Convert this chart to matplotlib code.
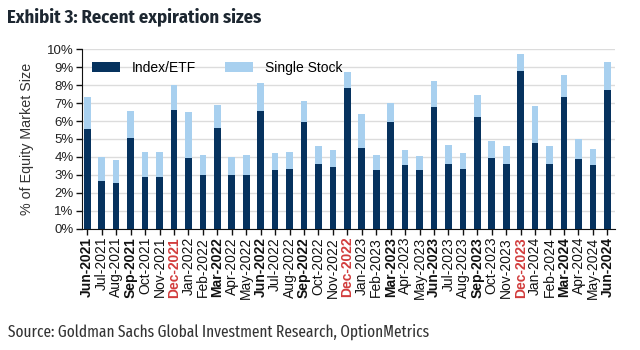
import matplotlib
matplotlib.use("Agg")
import matplotlib.pyplot as plt
import numpy as np

months = ["Jun-2021", "Jul-2021", "Aug-2021", "Sep-2021", "Oct-2021", "Nov-2021", "Dec-2021",
          "Jan-2022", "Feb-2022", "Mar-2022", "Apr-2022", "May-2022", "Jun-2022", "Jul-2022",
          "Aug-2022", "Sep-2022", "Oct-2022", "Nov-2022", "Dec-2022", "Jan-2023", "Feb-2023",
          "Mar-2023", "Apr-2023", "May-2023", "Jun-2023", "Jul-2023", "Aug-2023", "Sep-2023",
          "Oct-2023", "Nov-2023", "Dec-2023", "Jan-2024", "Feb-2024", "Mar-2024", "Apr-2024",
          "May-2024", "Jun-2024"]

index_etf = [5.53, 2.63, 2.55, 5.03, 2.88, 2.88, 6.63, 3.91, 3.00, 5.60, 3.00, 3.00, 6.55,
             3.26, 3.31, 5.92, 3.63, 3.44, 7.82, 4.52, 3.26, 5.92, 3.52, 3.26, 6.76, 3.63,
             3.31, 6.24, 3.95, 3.63, 8.77, 4.78, 3.63, 7.32, 3.89, 3.52, 7.71]

single_stock = [1.79, 1.37, 1.27, 1.52, 1.38, 1.38, 1.37, 2.59, 1.13, 1.27, 1.00, 1.08, 1.59,
                0.93, 0.95, 1.19, 0.95, 0.95, 0.93, 1.90, 0.87, 1.06, 0.87, 0.80, 1.45, 1.01,
                0.88, 1.21, 0.95, 0.95, 0.95, 2.07, 0.95, 1.26, 1.08, 0.93, 1.56]

yticks = [0, 1, 2, 3, 4, 5, 6, 7, 8, 9, 10]
ytick_labels = ["0%", "1%", "2%", "3%", "4%", "5%", "6%", "7%", "8%", "9%", "10%"]

DARK = "#06325e"
LIGHT = "#a8d0ef"
RED = "#d23c3c"

plt.rcParams['font.family'] = ['Liberation Sans', 'DejaVu Sans']

fig = plt.figure(figsize=(6.4, 3.5), dpi=100)
ax = fig.add_axes([0.128, 0.347, 0.833, 0.512])

x = np.arange(len(months))
ax.bar(x, index_etf, width=0.46, color=DARK, label="Index/ETF", zorder=3)
ax.bar(x, single_stock, width=0.46, bottom=index_etf, color=LIGHT, label="Single Stock", zorder=3)

ax.set_ylim(0, 10)
ax.set_xlim(-0.37, len(months) - 1 + 0.53)
ax.set_yticks(yticks)
ax.set_yticklabels(ytick_labels, fontsize=9.5, color="#222222")
ax.set_xticks(x)
ax.set_xticklabels(months, rotation=90, fontsize=10)
for lbl, m in zip(ax.get_xticklabels(), months):
    if m[:3] in ("Mar", "Jun", "Sep", "Dec"):
        lbl.set_fontweight("bold")
    if m[:3] == "Dec":
        lbl.set_color(RED)
    else:
        lbl.set_color("#111111")

ax.yaxis.grid(True, color="#dcdcdc", linewidth=1.0, zorder=0)
ax.set_axisbelow(True)
for s in ("top", "right"):
    ax.spines[s].set_visible(False)
ax.spines["left"].set_color("#111111")
ax.spines["bottom"].set_color("#111111")
ax.tick_params(axis="both", direction="out", length=4, width=1, color="#111111", pad=2)

ax.set_ylabel("% of Equity Market Size", fontsize=10.3, color="#333333", labelpad=9)

leg = ax.legend(loc="center left", bbox_to_anchor=(0.019, 0.898), ncol=2, frameon=False,
                fontsize=10, handlelength=2.0, handleheight=0.7, handletextpad=0.85,
                columnspacing=2.1, borderaxespad=0.0, borderpad=0.0)

fig.text(0.011, 0.935, "Exhibit 3: Recent expiration sizes", fontsize=13.4, fontweight="bold",
         color="#1d2731", family=["Fira Sans Condensed", "DejaVu Sans"], va="baseline")
fig.text(0.013, 0.038, "Source: Goldman Sachs Global Investment Research, OptionMetrics",
         fontsize=12, color="#333333", family=["Fira Sans Extra Condensed", "DejaVu Sans"], va="baseline")

fig.savefig("out.png", dpi=100)
